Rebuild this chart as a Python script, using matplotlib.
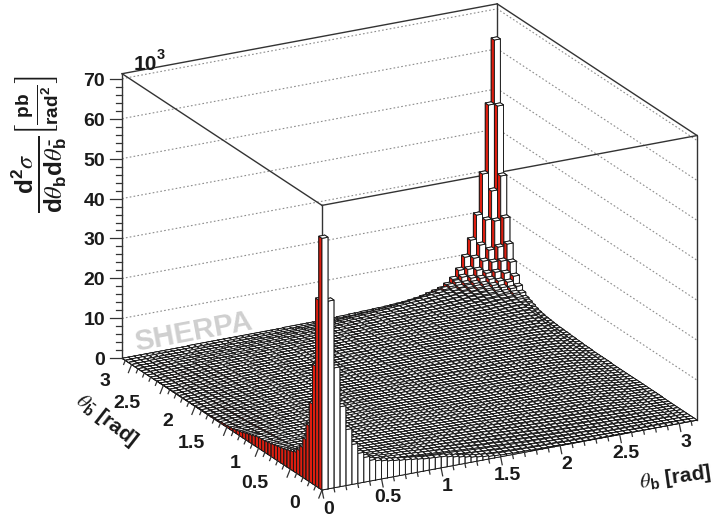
import matplotlib

matplotlib.use("Agg")
import matplotlib.pyplot as plt
import numpy as np
from mpl_toolkits.mplot3d import proj3d

plt.rcParams["font.family"] = ["Liberation Sans", "DejaVu Sans"]
plt.rcParams["mathtext.fontset"] = "custom"
plt.rcParams["mathtext.rm"] = "Liberation Sans:bold"
plt.rcParams["mathtext.bf"] = "Liberation Sans:bold"
plt.rcParams["mathtext.it"] = "Liberation Sans:italic:bold"
plt.rcParams["mathtext.cal"] = "STIXGeneral:italic"
plt.rcParams["mathtext.fallback"] = "stix"
plt.rcParams["mathtext.default"] = "bf"

# Bin heights in units of 0.1 x 10^3 pb/rad^2.
# The plot looks mirrored in both diagonals, so only one triangle is listed:
# row i holds bins j = i ... 62-i
rows = [
    [630,470,300,200,140,100,75,62,52,48,45,42,40,38,36,34,32,30,29,28,27,24,21,18,15,12,10,8,6,5,4,4,3,3,3,2,2,2,2,2,1,1,1,1,1,1,1,1,1,1,1,1,0,0,0,0,0,0,0,0,0,0,0],
    [260,190,130,100,75,58,47,40,35,32,30,28,27,26,24,22,21,19,18,16,15,14,13,12,11,10,9,8,7,6,6,5,5,4,4,4,3,3,3,3,2,2,2,2,2,2,2,1,1,1,1,1,1,1,1,1,1,1,1,1,1],
    [120,95,75,58,47,40,35,32,30,29,28,27,25,24,22,21,19,18,17,16,15,14,13,12,11,10,9,9,8,7,7,6,6,5,5,5,4,4,4,3,3,3,3,3,2,2,2,2,2,2,2,2,1,1,1,1,1,1,1],
    [70,60,50,43,38,34,31,30,29,28,27,26,25,24,23,22,21,20,19,18,17,16,15,14,13,12,11,11,10,9,9,8,8,7,7,6,6,5,5,5,4,4,4,4,3,3,3,3,3,2,2,2,2,2,2,2,2],
    [50,44,39,35,32,30,29,28,27,26,25,25,24,23,22,21,20,20,19,18,17,16,16,15,14,13,13,12,11,11,10,10,9,9,8,8,7,7,6,6,6,5,5,5,4,4,4,4,3,3,3,3,3,3,3],
    [40,37,34,31,29,28,27,26,25,25,24,24,23,22,22,21,20,20,19,18,18,17,16,16,15,14,14,13,13,12,11,11,10,10,9,9,8,8,8,7,7,6,6,6,5,5,5,5,4,4,4,4,4],
    [34,32,30,28,27,26,25,25,24,24,23,23,22,22,21,21,20,20,19,18,18,17,17,16,16,15,15,14,13,13,12,12,11,11,10,10,10,9,9,8,8,8,7,7,7,6,6,6,5,5,5],
    [30,28,27,26,25,25,24,24,23,23,22,22,21,21,21,20,20,19,19,18,18,17,17,16,16,15,15,14,14,13,13,12,12,11,11,11,10,10,9,9,9,8,8,8,7,7,7,6,6],
    [28,27,26,25,24,24,23,23,23,22,22,22,21,21,20,20,20,19,19,18,18,17,17,17,16,16,15,15,14,14,13,13,13,12,12,11,11,11,10,10,10,9,9,9,8,8,8],
    [26,25,25,24,24,23,23,23,22,22,22,21,21,21,20,20,20,19,19,18,18,18,17,17,17,16,16,15,15,15,14,14,13,13,13,12,12,12,11,11,11,10,10,10,9],
    [25,25,24,24,23,23,23,22,22,22,21,21,21,20,20,20,19,19,19,18,18,18,17,17,17,16,16,16,15,15,14,14,14,13,13,13,12,12,12,11,11,11,10],
    [25,24,24,23,23,23,22,22,22,21,21,21,20,20,20,20,19,19,19,18,18,18,17,17,17,16,16,16,15,15,15,14,14,14,13,13,13,12,12,12,11],
    [24,24,23,23,23,22,22,22,21,21,21,20,20,20,20,19,19,19,18,18,18,17,17,17,17,16,16,16,15,15,15,14,14,14,13,13,13,13,12],
    [24,23,23,23,22,22,22,21,21,21,20,20,20,20,19,19,19,19,18,18,18,17,17,17,17,16,16,16,15,15,15,15,14,14,14,13,13],
    [23,23,23,22,22,22,21,21,21,20,20,20,20,19,19,19,19,18,18,18,18,17,17,17,16,16,16,16,15,15,15,15,14,14,14],
    [23,23,22,22,22,21,21,21,21,20,20,20,20,19,19,19,19,18,18,18,17,17,17,17,16,16,16,16,15,15,15,15,15],
    [23,22,22,22,21,21,21,20,20,20,20,19,19,19,19,19,18,18,18,18,17,17,17,17,16,16,16,16,16,15,15],
    [22,22,22,21,21,21,20,20,20,20,19,19,19,19,18,18,18,18,17,17,17,17,17,16,16,16,16,16,16],
    [22,22,21,21,21,20,20,20,20,19,19,19,19,18,18,18,18,18,17,17,17,17,17,16,16,16,16],
    [22,21,21,21,20,20,20,20,19,19,19,19,18,18,18,18,18,17,17,17,17,17,17,16,16],
    [21,21,21,20,20,20,20,19,19,19,19,18,18,18,18,18,17,17,17,17,17,17,17],
    [21,21,20,20,20,20,19,19,19,19,18,18,18,18,18,18,17,17,17,17,17],
    [21,20,20,20,20,19,19,19,19,18,18,18,18,18,18,17,17,17,17],
    [20,20,20,20,19,19,19,19,18,18,18,18,18,18,18,17,17],
    [20,20,20,19,19,19,19,18,18,18,18,18,18,18,18],
    [20,20,19,19,19,19,18,18,18,18,18,18,18],
    [20,19,19,19,19,18,18,18,18,18,18],
    [19,19,19,19,18,18,18,18,18],
    [19,19,19,18,18,18,18],
    [19,19,18,18,18],
    [19,18,18],
    [18],
]
# The two edges at the far peak drop faster than the ones at the near peak
far_edge = [630,470,300,200,140,100,70,50,38,30,26,22,18,15,13,11,10,9,8,7,7,6,6,5,5,4,4,3,3,3,2,2,2,2,2,2,1,1,1,1,1,1,1,1,1,1,1,1,1,1,1,1,0,0,0,0,0,0,0,0,0,0,0]
far_next = [260,190,130,100,75,58,47,40,35,30,27,24,21,18,16,14,13,12,11,10,9,9,8,7,7,6,6,5,5,4,4,4,4,3,3,3,3,3,3,3,2,2,2,2,2,2,2,1,1,1,1,1,1,1,1,1,1,1,1,1,1]
bin_width = 0.05
z_ticks = [0, 10, 20, 30, 40, 50, 60, 70]
z_labels = ["0", "10", "20", "30", "40", "50", "60", "70"]
theta_ticks = [0, 0.5, 1, 1.5, 2, 2.5, 3]
theta_labels = ["0", "0.5", "1", "1.5", "2", "2.5", "3"]

nbins = len(rows) * 2 - 1
last = nbins - 1
theta_max = nbins * bin_width
z_max = 71.25

heights = np.zeros((nbins, nbins))
for i, row in enumerate(rows):
    for k, v in enumerate(row):
        j = i + k
        heights[i, j] = heights[j, i] = v / 10
        heights[last - i, last - j] = heights[last - j, last - i] = v / 10
for i, row in enumerate([far_edge, far_next]):
    for k, v in enumerate(row):
        j = i + k
        heights[last - i, last - j] = heights[last - j, last - i] = v / 10

fig = plt.figure(figsize=(7.14, 5.20), dpi=100)
ax = fig.add_subplot(projection="3d", computed_zorder=False)
ax.set_position([0.1, 0.05, 0.6, 0.6 * 714 / 520])
ax.set_proj_type("ortho")
ax.view_init(elev=20.5, azim=-118)
ax.set_box_aspect((425, 426, 304))
ax.set_axis_off()

# Walls and frame go under the bars
grid_color = "#8c8c8c"
for z in z_ticks[1:]:
    ax.plot([0, theta_max, theta_max], [theta_max, theta_max, 0], [z, z, z],
            color=grid_color, lw=0.8, ls=(0, (1.5, 2)), zorder=1)
frame = [
    ([0, theta_max], [theta_max, theta_max], [z_max, z_max]),
    ([theta_max, theta_max], [theta_max, 0], [z_max, z_max]),
    ([theta_max, 0], [0, 0], [z_max, z_max]),
    ([0, 0], [0, theta_max], [z_max, z_max]),
    ([0, 0], [theta_max, theta_max], [0, z_max]),
    ([theta_max, theta_max], [0, 0], [0, z_max]),
    ([0, 0], [0, 0], [0, z_max]),
    ([theta_max, theta_max], [theta_max, theta_max], [0, z_max]),
]
for xs, ys, zs in frame:
    ax.plot(xs, ys, zs, color="#333333", lw=1.0, zorder=2)

# Lego bars, far corner first. Bins on one anti-diagonal never overlap on screen
red = "#dc1e10"
for s in range(2 * nbins - 2, -1, -1):
    ii = np.array([i for i in range(nbins) if 0 <= s - i < nbins])
    jj = s - ii
    # faces of bar3d: -z, +z, -y, +y, -x, +x
    colors = ["white", "white", "white", "white", red, "white"] * len(ii)
    ax.bar3d(ii * bin_width, jj * bin_width, np.zeros(len(ii)),
             bin_width, bin_width, heights[ii, jj],
             color=colors, edgecolor="#151515", linewidth=0.65, shade=False,
             zorder=10 + (2 * nbins - s))

ax.set_xlim(0, theta_max, view_margin=0)
ax.set_ylim(0, theta_max, view_margin=0)
ax.set_zlim(0, z_max, view_margin=0)


def to_px(x, y, z):
    X, Y, _ = proj3d.proj_transform(x, y, z, ax.get_proj())
    p = ax.transData.transform((X, Y))
    return p[0], 520 - p[1]


# Fit the box on the reference corners
ax.apply_aspect()
scale = (697 - 122) / (to_px(theta_max, 0, 0)[0] - to_px(0, theta_max, 0)[0])
pos = ax.get_position()
ax.set_position([pos.x0, pos.y0, pos.width * scale, pos.height * scale])
ax.apply_aspect()
fx, fy = to_px(0, 0, 0)
pos = ax.get_position()
ax.set_position([pos.x0 + (322 - fx) / 714, pos.y0 - (490 - fy) / 520, pos.width, pos.height])
ax.apply_aspect()

# Ticks and texts in pixel coordinates
over = fig.add_axes([0, 0, 1, 1])
over.set_xlim(0, 714)
over.set_ylim(520, 0)
over.axis("off")

tick_color = "#333333"
for k in range(0, 71, 2):
    px, py = to_px(0, theta_max, k)
    length = 12 if k % 10 == 0 else 6
    over.plot([px - length, px], [py, py], color=tick_color, lw=0.9)
for k in range(int(theta_max / 0.1) + 1):
    t = k * 0.1
    length = 8 if k % 5 == 0 else 4
    px, py = to_px(t, 0, 0)
    over.plot([px, px + length * 0.2], [py, py + length], color=tick_color, lw=0.9)
    px, py = to_px(0, t, 0)
    over.plot([px, px - length * 0.4], [py, py + length], color=tick_color, lw=0.9)

text_color = "#1a1a1a"
label_kw = dict(fontsize=14, fontweight="bold", color=text_color, ha="center", va="center")
for z, lab in zip(z_ticks, z_labels):
    px, py = to_px(0, theta_max, z)
    over.text(px - 17, py + 2.5, lab, ha="right", va="center", fontsize=14,
              fontweight="bold", color=text_color)
for t, lab in zip(theta_ticks, theta_labels):
    px, py = to_px(t, 0, 0)
    over.text(px + 6.5, py + 19, lab, **label_kw)
for t, lab, dx, dy in zip(theta_ticks, theta_labels, [-27, -35, -23.5, -35, -27, -36, -26.5], [14, 14, 15, 16, 15, 18, 17]):
    px, py = to_px(0, t, 0)
    over.text(px + dx, py + dy, lab, **label_kw)

over.text(145, 65, "10", fontsize=15, fontweight="bold", color=text_color, ha="center", va="center")
over.text(161, 55, "3", fontsize=10.5, fontweight="bold", color=text_color, ha="center", va="center")

over.text(675, 478, r"$\mathcal{\theta}_b$ [rad]", fontsize=15, fontweight="bold", color=text_color,
          rotation=8, ha="center", va="center")
over.text(107, 420, r"$\mathcal{\theta}_{\bar{b}}$ [rad]", fontsize=15, fontweight="bold", color=text_color,
          rotation=-38, ha="center", va="center")

over.text(40, 174, r"$\frac{d^2\mathcal{\sigma}}{d\mathcal{\theta}_b d\mathcal{\theta}_{\bar{b}}}$", fontsize=25,
          rotation=90, color=text_color, ha="center", va="center")
over.text(37, 105, r"$\left[\frac{pb}{rad^2}\right]$", fontsize=19.5,
          rotation=90, color=text_color, ha="center", va="center")

over.text(193, 332, "SHERPA", fontsize=21, fontweight="bold", color="#cfcfcf",
          rotation=10.6, ha="center", va="center")

fig.savefig("out.png", dpi=100)
plt.close(fig)
